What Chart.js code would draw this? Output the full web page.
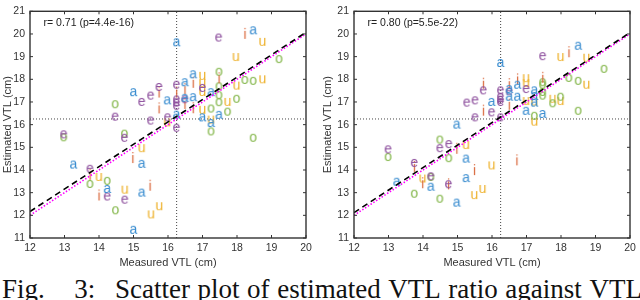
<!DOCTYPE html>
<html>
<head>
<meta charset="utf-8">
<script src="https://cdn.jsdelivr.net/npm/chart.js@4.4.0/dist/chart.umd.min.js"></script>
<style>
body { margin: 0; width: 640px; height: 300px; overflow: hidden; background: #fff; position: relative; }
.plot { position: absolute; top: 0; }
#left { left: 0; }
#right { left: 320px; }
#caption {
   position: absolute; left: 2px; top: 275px; width: 640px;
   display: flex; justify-content: space-between;
   font: 27px/28px "Liberation Serif", "Times New Roman", serif; color: #111; white-space: nowrap;
}
#caption .wide { margin-right: 22px; }
#caption .mid { margin-right: 12px; }
</style>
</head>
<body>
<canvas id="left" class="plot" width="320" height="272"></canvas>
<canvas id="right" class="plot" width="320" height="272"></canvas>
<div id="caption"><span class="wide">Fig.</span><span class="mid">3:</span><span>Scatter</span><span>plot</span><span>of</span><span>estimated</span><span>VTL</span><span>ratio</span><span>against</span><span>VTL</span></div>
<script>
// axis ranges and reference values
const xRange = [12, 20];
const yRange = [11, 21];
const refVTL = 16.25;
const identityLine = [12, 20];

// left panel
const leftLabel = "r= 0.71 (p=4.4e-16)";
const leftFit = [12.17, 20.07];
const leftA = [[16.25,19.61],[18.47,20.14],[16.73,18.2],[16.49,17.85],[16.49,17.16],[16.73,17.19],[17.25,17.41],[15.98,17.05],[15.0,17.41],[16.25,16.42],[17.0,16.3],[17.48,16.41],[17.25,16.05],[15.24,14.25],[13.26,14.22],[14.24,13.14],[15.24,12.98],[15.0,11.34]];
const leftE = [[17.47,19.82],[16.25,17.74],[16.25,17.09],[16.25,16.95],[16.25,16.81],[16.49,17.1],[17.0,17.6],[15.74,17.64],[15.5,17.26],[15.24,16.98],[14.47,16.33],[15.5,16.16],[15.99,16.3],[16.25,15.84],[12.98,15.55],[14.74,15.4],[13.74,14.03],[14.24,12.81],[14.75,12.67]];
const leftI = [[18.23,19.94],[17.48,17.98],[16.49,17.5],[16.73,17.78],[16.73,16.66],[16.25,17.35],[16.49,16.85],[15.74,17.35],[15.74,16.65],[14.98,14.46],[13.74,13.72],[14.0,12.81],[15.48,13.24]];
const leftO = [[19.22,18.87],[17.48,18.31],[17.48,17.67],[17.48,17.28],[17.48,16.97],[17.73,16.55],[17.99,17.12],[18.23,17.95],[18.47,17.91],[17.25,16.69],[17.25,15.68],[18.47,15.4],[14.47,16.88],[12.98,15.42],[14.74,15.58],[14.24,13.5],[13.74,13.36],[14.48,12.2]];
const leftU = [[18.74,19.63],[17.97,18.96],[17.0,18.13],[17.0,17.81],[17.0,17.42],[17.0,16.63],[17.73,16.98],[17.99,17.7],[18.74,17.98],[17.25,16.2],[15.98,16.08],[15.24,14.94],[14.0,13.67],[14.75,13.11],[15.51,12.02],[15.75,12.38]];

// right panel
const rightLabel = "r= 0.80 (p=5.5e-22)";
const rightFit = [12.12, 20.06];
const rightA = [[16.25,18.7],[18.5,19.46],[16.74,17.74],[16.5,17.55],[16.5,17.21],[16.74,17.21],[17.23,17.49],[17.23,17.24],[17.23,16.95],[16.99,16.59],[17.47,16.45],[15.99,16.98],[14.98,15.98],[15.25,14.48],[13.24,13.46],[14.23,13.24],[14.98,12.54],[15.25,13.62]];
const rightE = [[17.47,19.0],[16.5,17.45],[16.99,17.55],[16.25,17.49],[16.25,17.21],[16.25,17.07],[16.25,16.98],[16.25,16.3],[15.99,16.52],[15.75,17.49],[15.51,17.05],[15.27,16.95],[15.51,16.3],[14.75,15.12],[14.49,14.94],[12.99,14.89],[13.75,14.29],[14.23,13.7],[14.74,13.35]];
const rightI = [[18.23,19.13],[17.47,18.0],[16.74,17.93],[16.5,17.72],[16.5,16.81],[15.75,17.74],[15.75,16.55],[14.98,14.87],[13.75,14.07],[13.99,13.35],[14.74,13.3],[15.49,13.93],[16.72,14.36]];
const rightO = [[19.25,18.44],[18.23,18.04],[18.5,17.91],[17.47,17.85],[17.47,17.74],[17.47,17.42],[17.47,17.26],[17.23,16.37],[17.76,16.92],[17.99,17.21],[18.5,16.59],[14.49,15.32],[14.75,14.5],[12.99,14.55],[14.23,13.67],[13.75,12.93],[14.49,12.71]];
const rightU = [[17.99,18.96],[18.74,18.93],[18.74,17.74],[16.99,18.03],[16.99,17.81],[16.99,17.02],[17.23,17.0],[17.23,16.11],[17.76,17.12],[17.99,17.02],[15.25,15.08],[13.99,13.6],[15.49,12.87],[15.73,13.14],[15.99,14.18]];

const vowels = ["a", "e", "i", "o", "u"];
const vowelColors = ["#3a8dd0", "#8d4f9d", "#da6a3e", "#86b84e", "#eeb22e"];
const axisColor = "#333";
const font = '"Liberation Sans", Arial, sans-serif';

// letters are drawn as small canvases used as point styles
function letterImage(ch, color) {
   const c = document.createElement("canvas");
   c.width = 13;
   c.height = 17;
   const g = c.getContext("2d");
   g.font = "14px " + font;
   g.fillStyle = color;
   g.textAlign = "center";
   g.textBaseline = "alphabetic";
   g.fillText(ch, 6.5, 12.1);
   return c;
}

const toXY = (pts) => pts.map(([x, y]) => ({ x, y }));

// frame with inward ticks on every side, plus the r/p note
const boxPlugin = {
   id: "box",
   afterDatasetsDraw(chart, args, opts) {
      const { ctx, chartArea: a, scales } = chart;
      ctx.save();
      ctx.strokeStyle = axisColor;
      ctx.lineWidth = 1.4;
      ctx.strokeRect(a.left, a.top, a.right - a.left, a.bottom - a.top);
      ctx.lineWidth = 1;
      ctx.beginPath();
      scales.x.ticks.forEach((t) => {
         const px = scales.x.getPixelForValue(t.value);
         ctx.moveTo(px, a.bottom); ctx.lineTo(px, a.bottom - 3);
         ctx.moveTo(px, a.top); ctx.lineTo(px, a.top + 3);
      });
      scales.y.ticks.forEach((t) => {
         const py = scales.y.getPixelForValue(t.value);
         ctx.moveTo(a.left, py); ctx.lineTo(a.left + 3, py);
         ctx.moveTo(a.right, py); ctx.lineTo(a.right - 3, py);
      });
      ctx.stroke();
      ctx.fillStyle = "#222";
      ctx.font = "10.5px " + font;
      ctx.textBaseline = "middle";
      ctx.fillText(opts.text, a.left + 13.5, a.top + 11.5);
      ctx.restore();
   },
};

function makePanel(id, label, fit, groups, yWidth, padRight) {
   const datasets = [
      {
         data: toXY([[xRange[0], fit[0]], [xRange[1], fit[1]]]),
         showLine: true, borderColor: "#000", borderWidth: 1.6, borderDash: [6, 4], pointRadius: 0,
      },
      {
         data: toXY([[identityLine[0], identityLine[0]], [identityLine[1], identityLine[1]]]),
         showLine: true, borderColor: "#ff00ff", borderWidth: 1.6, borderDash: [1.5, 1.8], pointRadius: 0,
      },
   ];
   groups.forEach((pts, k) => {
      datasets.push({
         data: toXY(pts),
         pointStyle: letterImage(vowels[k], vowelColors[k]),
         pointRadius: 5,
         showLine: false,
      });
   });
   datasets.push(
      {
         data: toXY([[refVTL, yRange[0]], [refVTL, yRange[1]]]),
         showLine: true, borderColor: "#444", borderWidth: 1, borderDash: [1, 2], pointRadius: 0,
      },
      {
         data: toXY([[xRange[0], refVTL], [xRange[1], refVTL]]),
         showLine: true, borderColor: "#444", borderWidth: 1, borderDash: [1, 2], pointRadius: 0,
      }
   );

   const noGrid = { display: false, drawTicks: false, tickLength: 0 };

   return new Chart(document.getElementById(id), {
      type: "scatter",
      data: { datasets },
      plugins: [boxPlugin],
      options: {
         responsive: false,
         animation: false,
         layout: { padding: { left: 0, top: 6, right: padRight, bottom: 0 } },
         plugins: { legend: { display: false }, tooltip: { enabled: false }, box: { text: label } },
         scales: {
            x: {
               min: xRange[0], max: xRange[1],
               grid: noGrid, border: { display: false },
               ticks: { stepSize: 1, padding: 4, color: axisColor, font: { family: font, size: 10.5 } },
               title: { display: true, text: "Measured VTL (cm)", color: axisColor, padding: { top: 0, bottom: 2 }, font: { family: font, size: 11 } },
               afterFit: (s) => { s.height = 34; },
            },
            y: {
               min: yRange[0], max: yRange[1],
               grid: noGrid, border: { display: false },
               ticks: { stepSize: 1, padding: 5, color: axisColor, font: { family: font, size: 10.5 } },
               title: { display: true, text: "Estimated VTL (cm)", color: axisColor, padding: { top: 1, bottom: 0 }, font: { family: font, size: 11 } },
               afterFit: (s) => { s.width = yWidth; },
            },
         },
      },
   });
}

makePanel("left", leftLabel, leftFit, [leftA, leftE, leftI, leftO, leftU], 30, 14);
makePanel("right", rightLabel, rightFit, [rightA, rightE, rightI, rightO, rightU], 34, 10);
</script>
</body>
</html>
